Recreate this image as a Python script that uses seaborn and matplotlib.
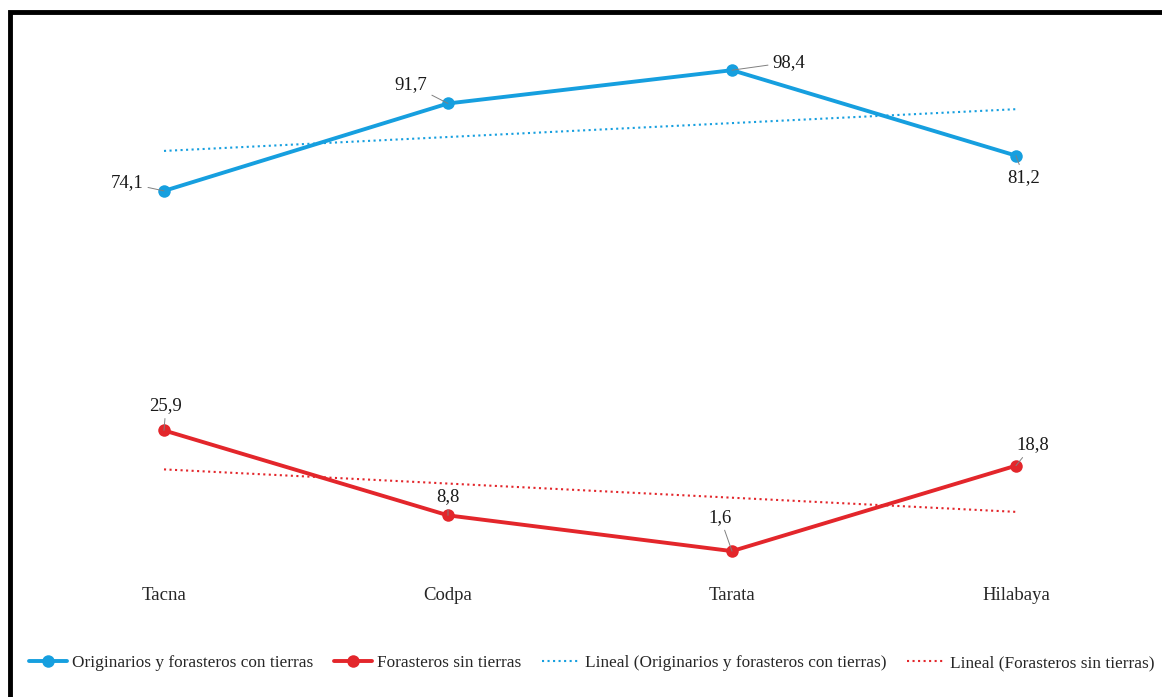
import numpy as np
import pandas as pd
import seaborn as sns
import matplotlib.pyplot as plt
from matplotlib.patches import Rectangle

# datos
lugares = ['Tacna', 'Codpa', 'Tarata', 'Hilabaya']
con_tierras = [74.1, 91.7, 98.4, 81.2]
sin_tierras = [25.9, 8.8, 1.6, 18.8]
serie_a = 'Originarios y forasteros con tierras'
serie_b = 'Forasteros sin tierras'
etiquetas_a = ['74,1', '91,7', '98,4', '81,2']
etiquetas_b = ['25,9', '8,8', '1,6', '18,8']

azul = '#169fdf'
rojo = '#e3262b'

df = pd.DataFrame({
    'lugar': lugares * 2,
    'pos': list(range(len(lugares))) * 2,
    'valor': con_tierras + sin_tierras,
    'serie': [serie_a] * 4 + [serie_b] * 4,
})

sns.set_style('white')
plt.rcParams['font.family'] = ['Liberation Serif', 'DejaVu Serif']

fig = plt.figure(figsize=(11.62, 6.97), dpi=100)
ax = fig.add_axes([22 / 1162, 127 / 697, 1136 / 1162, 550 / 697])

sns.lineplot(data=df, x='pos', y='valor', hue='serie', palette=[azul, rojo],
             marker='o', markersize=9, markeredgewidth=0, linewidth=2.8,
             ax=ax, legend=False)

# lineas de tendencia
sns.regplot(data=df[df['serie'] == serie_a], x='pos', y='valor', scatter=False,
            ci=None, ax=ax, line_kws=dict(color=azul, lw=1.5, ls=':'))
sns.regplot(data=df[df['serie'] == serie_b], x='pos', y='valor', scatter=False,
            ci=None, ax=ax, line_kws=dict(color=rojo, lw=1.5, ls=':'))

# etiquetas de datos
offs_a = [(-37, 8), (-37, 19), (57, 8), (8, -22)]
offs_b = [(2, 25), (0, 19), (-12, 34), (17, 21)]
for vals, labs, offs in [(con_tierras, etiquetas_a, offs_a), (sin_tierras, etiquetas_b, offs_b)]:
    for i, (v, t, o) in enumerate(zip(vals, labs, offs)):
        ax.annotate(t, (i, v), xytext=o, textcoords='offset pixels',
                    ha='center', va='center', fontsize=13.5, color='#1a1a1a',
                    arrowprops=dict(arrowstyle='-', color='#808080', lw=0.7,
                                    shrinkA=1, shrinkB=0))

ax.set_xlim(-0.5, 3.5)
ax.set_ylim(-2.2, 108.5)
ax.set_xticks(range(len(lugares)))
ax.set_xticklabels(lugares, fontsize=13.5)
ax.tick_params(axis='x', length=0, pad=12)
ax.set_yticks([])
ax.set_xlabel('')
ax.set_ylabel('')
sns.despine(ax=ax, left=True, bottom=True)

# leyenda
h = [
    plt.Line2D([], [], color=azul, lw=2.8, marker='o', markersize=9, markeredgewidth=0),
    plt.Line2D([], [], color=rojo, lw=2.8, marker='o', markersize=9, markeredgewidth=0),
    plt.Line2D([], [], color=azul, lw=1.5, ls=':'),
    plt.Line2D([], [], color=rojo, lw=1.5, ls=':'),
]
nombres = [serie_a, serie_b, 'Lineal (' + serie_a + ')', 'Lineal (' + serie_b + ')']
fig.legend(h, nombres, loc='center', bbox_to_anchor=(0.5095, 34 / 697), ncol=4,
           frameon=False, fontsize=12.4, handlelength=2.2, handletextpad=0.3,
           columnspacing=1.2)

# marco
fig.patches.append(Rectangle((10 / 1162, -0.1), 1.2, (697 - 12) / 697 + 0.1,
                             transform=fig.transFigure, fill=False,
                             edgecolor='black', lw=3.5, zorder=10))

fig.savefig('out.png', dpi=100)
